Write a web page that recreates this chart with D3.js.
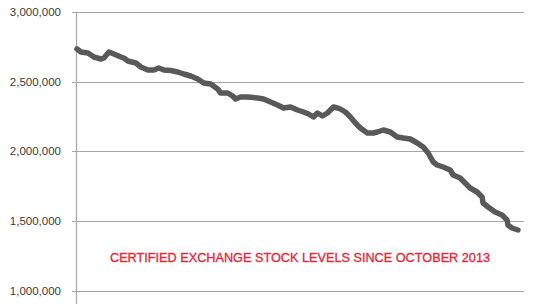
<!DOCTYPE html>
<html><head><meta charset="utf-8">
<script src="https://cdn.jsdelivr.net/npm/d3@7"></script>
<style>html,body{margin:0;padding:0;background:#fff;}svg{display:block;}</style>
</head><body>
<svg id="c" width="540" height="304"></svg>
<script>
// Trading-day index (relative position since October 2013)
const days = [0,4,11,17,24,27,32,37,44,47,51,59,64,71,77,82,87,94,101,107,114,121,127,134,141,144,151,156,159,164,171,181,187,194,201,207,214,221,227,232,237,241,246,251,257,261,264,269,274,279,284,291,297,301,307,314,321,327,334,341,347,352,357,361,367,374,377,384,389,394,401,406,407,412,419,426,431,432,436,442];
const stock = [2734300,2712700,2705600,2676900,2662500,2669700,2712700,2698400,2676900,2669700,2648100,2633800,2605000,2583500,2583500,2597800,2583500,2580000,2569100,2554800,2540400,2518900,2490100,2482900,2447000,2418300,2418300,2396800,2375200,2389600,2389600,2382400,2375200,2353700,2332100,2310600,2317800,2296200,2281900,2267500,2245900,2274700,2253100,2274700,2317800,2310600,2303400,2281900,2245900,2202900,2166900,2131000,2131000,2138200,2152600,2138200,2102300,2095100,2087900,2059200,2030500,1987400,1922800,1901200,1886900,1865400,1829500,1807900,1772000,1736100,1707400,1671500,1628400,1599600,1563700,1542200,1506300,1470400,1448800,1434500];
const yTicks = [1000000,1500000,2000000,2500000,3000000];
const title = "CERTIFIED EXCHANGE STOCK LEVELS SINCE OCTOBER 2013";

const svg = d3.select("#c");
const x = d3.scaleLinear().domain([0,442]).range([77,518]);
const y = d3.scaleLinear().domain([1000000,3000000]).range([290.5,12]);

const fmt = d3.format(",");
// gridlines
svg.append("g").selectAll("line").data(yTicks).join("line")
  .attr("x1",72).attr("x2",524)
  .attr("y1",d=>Math.round(y(d))+0.5).attr("y2",d=>Math.round(y(d))+0.5)
  .attr("stroke","#a6a6a6").attr("stroke-width",1.2);
// vertical axis
svg.append("line").attr("x1",76.5).attr("x2",76.5).attr("y1",12).attr("y2",304)
  .attr("stroke","#a6a6a6").attr("stroke-width",1.2);
// labels
svg.append("g").selectAll("text").data(yTicks).join("text")
  .attr("x",61).attr("y",d=>y(d)+4)
  .attr("text-anchor","end")
  .attr("font-family","Liberation Sans, Arial, sans-serif")
  .attr("font-size","11.5px").attr("fill","#3a3a3a")
  .text(d=>fmt(d));

const line = d3.line().x((d,i)=>x(days[i])).y(d=>y(d)).curve(d3.curveLinear);
svg.append("path").datum(stock).attr("d",line)
  .attr("fill","none").attr("stroke","#595959").attr("stroke-width",5.5)
  .attr("stroke-linejoin","round").attr("stroke-linecap","round");

svg.append("text").attr("x",300).attr("y",262).attr("text-anchor","middle")
  .attr("font-family","Liberation Sans, Arial, sans-serif")
  .attr("font-size","13.5px").attr("fill","#e5283a")
  .attr("stroke","#e5283a").attr("stroke-width",0.35)
  .attr("textLength",380).attr("lengthAdjust","spacingAndGlyphs")
  .text(title);
</script>
</body></html>
